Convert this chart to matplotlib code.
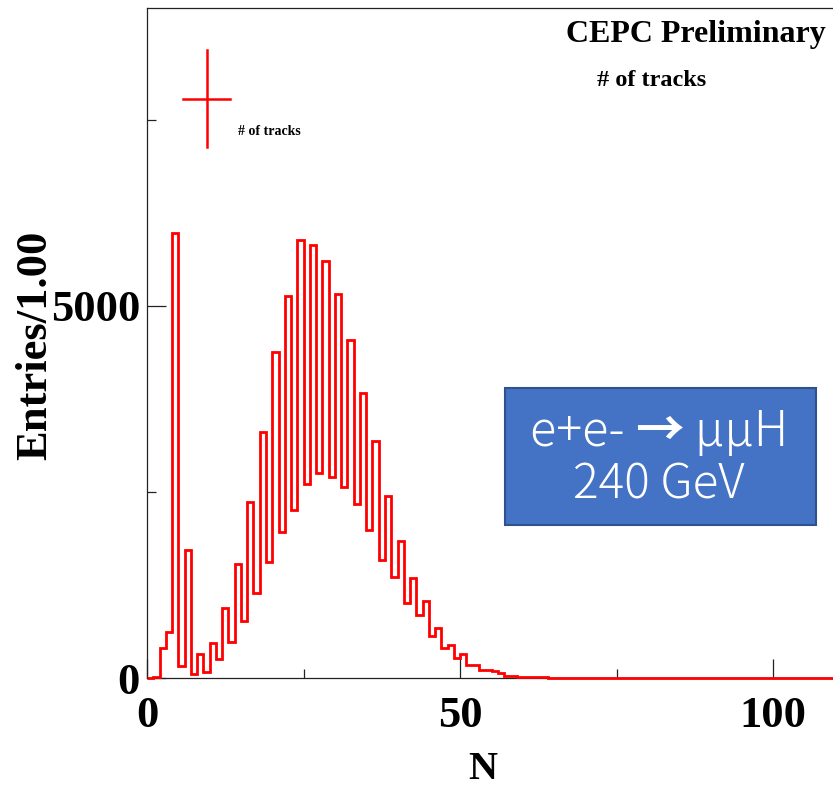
import matplotlib

matplotlib.use("Agg")
import matplotlib.pyplot as plt
import numpy as np
from matplotlib.offsetbox import AnnotationBbox, HPacker, TextArea
from matplotlib.patches import Rectangle
from matplotlib.ticker import MultipleLocator

# track multiplicity, one entry per unit bin starting at N = 0
counts = [
    0, 20, 406, 612, 5983, 165, 1725, 49, 322, 85,
    465, 255, 934, 478, 1537, 768, 2363, 1148, 3301, 1559,
    4383, 1961, 5134, 2261, 5880, 2600, 5813, 2757, 5603, 2698,
    5164, 2564, 4544, 2341, 3824, 1984, 3190, 1591, 2440, 1358,
    1840, 1014, 1345, 845, 1036, 563, 674, 398, 442, 264,
    322, 170, 178, 112, 107, 89, 67, 30, 30, 20,
    15, 12, 10, 8, 5, 3,
]
n_bins = 110
x_ticks = [0, 50, 100]
y_ticks = [0, 5000]
x_label = "N"
y_label = "Entries/1.00"
hist_name = "# of tracks"

values = np.zeros(n_bins)
values[: len(counts)] = counts
edges = np.arange(n_bins + 1)

serif = ["Liberation Serif", "DejaVu Serif"]
plt.rcParams["font.family"] = serif
plt.rcParams["font.weight"] = "bold"

fig = plt.figure(figsize=(8.33, 7.91), dpi=100)
ax = fig.add_axes([147 / 833, 113 / 791, 689 / 833, 670 / 791])

ax.stairs(values, edges, color="#ff0000", linewidth=2.0, baseline=0,
          zorder=3, clip_on=False)

ax.set_xlim(0, n_bins)
ax.set_ylim(0, 9000)
ax.set_xticks(x_ticks)
ax.set_yticks(y_ticks)
ax.xaxis.set_minor_locator(MultipleLocator(25))
ax.yaxis.set_minor_locator(MultipleLocator(2500))
ax.tick_params(which="both", direction="in", width=0.9, color="#222222",
               top=False, right=False)
ax.tick_params(which="major", length=13.7)
ax.tick_params(which="minor", length=6.8)
ax.tick_params(axis="x", which="major", labelsize=32, pad=13)
ax.tick_params(axis="y", which="major", labelsize=32, pad=5)
for lab in ax.get_xticklabels() + ax.get_yticklabels():
    lab.set_fontweight("bold")

for side in ("left", "bottom", "top", "right"):
    ax.spines[side].set_linewidth(0.9)
    ax.spines[side].set_color("#222222")

ax.set_xlabel(x_label, fontsize=29, fontweight="bold", va="center")
ax.xaxis.set_label_coords(0.488, -0.137)
ax.set_ylabel(y_label, fontsize=32, fontweight="bold", va="center")
ax.yaxis.set_label_coords(-0.162, 0.497)

# legend entry: error-bar cross with the histogram name
tr = ax.transAxes
ax.plot([0.0523, 0.1205], [0.864, 0.864], color="#ff0000", lw=1.8,
        transform=tr, clip_on=False)
ax.plot([0.0871, 0.0871], [0.7925, 0.937], color="#ff0000", lw=1.8,
        transform=tr, clip_on=False)
ax.text(0.132, 0.815, hist_name, transform=tr, fontsize=10,
        fontweight="bold", ha="left", va="center")

fig.text(566 / 833, 0.957, "CEPC Preliminary", fontsize=23,
         fontweight="bold", ha="left", va="center")
fig.text(597 / 833, 0.8985, hist_name, fontsize=17.5,
         fontweight="bold", ha="left", va="center")

# process box
fig.patches.append(Rectangle((504.5 / 833, 266 / 791), 311 / 833, 137.5 / 791,
                             transform=fig.transFigure, facecolor="#4472c4",
                             edgecolor="#2f528f", linewidth=1.5, zorder=5))
box_font = ["Noto Sans CJK JP", "DejaVu Sans"]
thin = dict(family=box_font, fontweight="light", color="white", fontsize=35)
heavy = dict(family=box_font, fontweight="bold", color="white", fontsize=35)
line1 = HPacker(children=[TextArea("e+e- ", textprops=thin),
                          TextArea("\u2192", textprops=heavy),
                          TextArea(" \u03bc\u03bcH", textprops=thin)],
                align="baseline", pad=0, sep=0)
ab = AnnotationBbox(line1, (659 / 833, (791 - 432) / 791),
                    xycoords="figure fraction", frameon=False,
                    box_alignment=(0.5, 0.5), pad=0, zorder=6)
fig.add_artist(ab)
fig.text(659 / 833, (791 - 485) / 791, "240 GeV", fontsize=34.5,
         family=box_font, fontweight="light", color="white",
         ha="center", va="center", zorder=6)

fig.savefig("out.png", dpi=100)
plt.close(fig)
